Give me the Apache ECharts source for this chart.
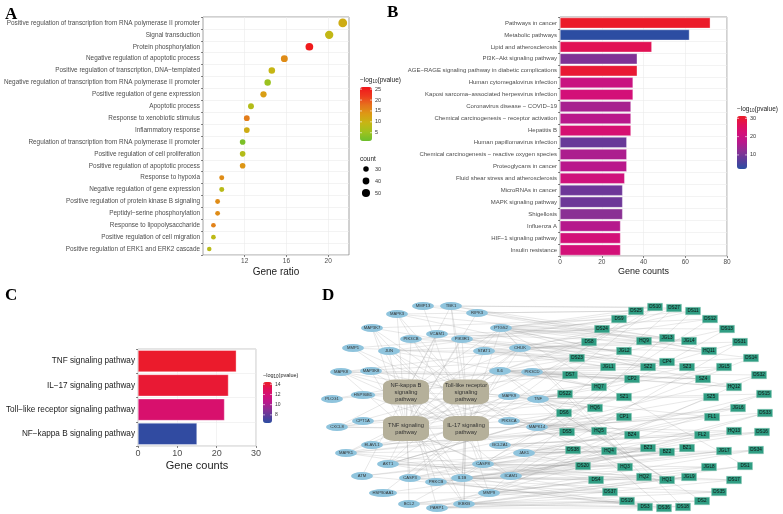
<!DOCTYPE html>
<html><head><meta charset="utf-8">
<script src="https://cdn.jsdelivr.net/npm/echarts@6/dist/echarts.min.js"></script>
<style>html,body{margin:0;padding:0;background:#fff}#c{width:783px;height:514px}</style>
</head><body><div id="c"></div>
<script>
// ---------- Panel A : GO dot plot ----------
const catsA = [
 'Positive regulation of transcription from RNA polymerase II promoter',
 'Signal transduction',
 'Protein phosphorylation',
 'Negative regulation of apoptotic process',
 'Positive regulation of transcription, DNA\u2212templated',
 'Negative regulation of transcription from RNA polymerase II promoter',
 'Positive regulation of gene expression',
 'Apoptotic process',
 'Response to xenobiotic stimulus',
 'Inflammatory response',
 'Regulation of transcription from RNA polymerase II promoter',
 'Positive regulation of cell proliferation',
 'Positive regulation of apoptotic process',
 'Response to hypoxia',
 'Negative regulation of gene expression',
 'Positive regulation of protein kinase B signaling',
 'Peptidyl\u2212serine phosphorylation',
 'Response to lipopolysaccharide',
 'Positive regulation of cell migration',
 'Positive regulation of ERK1 and ERK2 cascade'
];
const ratioA = [21.4, 20.1, 18.2, 15.8, 14.6, 14.2, 13.8, 12.6, 12.2, 12.2, 11.8, 11.8, 11.8, 9.8, 9.8, 9.4, 9.4, 9.0, 9.0, 8.6];
const pvalA  = [11, 9, 25.5, 15, 9.5, 5, 13, 7.5, 16.5, 11, 2.5, 7.5, 14, 15, 8, 15, 15, 16, 8.5, 8];
const countA = [55, 52, 47, 41, 38, 37, 36, 33, 32, 32, 31, 31, 31, 26, 26, 25, 25, 24, 24, 22];
const ticksA = [12, 16, 20];
const pvalTicksA = [5, 10, 15, 20, 25];
const countLegendA = [30, 40, 50];

// ---------- Panel B : KEGG bar chart ----------
const catsB = [
 'Pathways in cancer','Metabolic pathways','Lipid and atherosclerosis','PI3K\u2212Akt signaling pathway',
 'AGE\u2212RAGE signaling pathway in diabetic complications','Human cytomegalovirus infection',
 'Kaposi sarcoma\u2212associated herpesvirus infection','Coronavirus disease \u2212 COVID\u221219',
 'Chemical carcinogenesis \u2212 receptor activation','Hepatitis B','Human papillomavirus infection',
 'Chemical carcinogenesis \u2212 reactive oxygen species','Proteoglycans in cancer',
 'Fluid shear stress and atherosclerosis','MicroRNAs in cancer','MAPK signaling pathway','Shigellosis',
 'Influenza A','HIF\u22121 signaling pathway','Insulin resistance'
];
const countB = [72, 62, 44, 37, 37, 35, 35, 34, 34, 34, 32, 32, 32, 31, 30, 30, 30, 29, 29, 29];
const pvalB  = [31, 2.5, 27, 11, 30, 20, 22, 15, 17, 23, 8.5, 15.5, 17, 21, 9, 9, 12, 16.5, 22, 22];
const ticksB = [0, 20, 40, 60, 80];
const pvalTicksB = [10, 20, 30];

// ---------- Panel C : selected pathways ----------
const catsC = ['TNF signaling pathway','IL\u221217 signaling pathway','Toll\u2212like receptor signaling pathway','NF\u2212kappa B signaling pathway'];
const countC = [25, 23, 22, 15];
const pvalC  = [14.3, 14.1, 12.3, 6.6];
const ticksC = [0, 10, 20, 30];
const pvalTicksC = [8, 10, 12, 14];

// ---------- Panel D : network (layout coordinates) ----------
const pathwayIds = ['NFKB','TLR','TNFP','IL17'];
const pathwayLabels = ['NF-kappa B\nsignaling\npathway','Toll-like receptor\nsignaling\npathway','TNF signaling\npathway','IL-17 signaling\npathway'];
const pathwayXY = [[406,392],[466,392],[406,428.5],[466,428.5]];
const pathwayGenes = [
 'MAP3K7 CHUK IKBKB TNF IL1B PTGS2 VCAM1 ICAM1 CXCL8 BCL2 BCL2A1 PLCG1 PRKCB ATM PARP1 MAP3K8 TBK1',
 'MAPK1 MAPK3 MAPK8 MAPK9 MAPK14 JUN PIK3CA PIK3CB PIK3CD PIK3R1 AKT1 IL6 IL1B TNF CXCL8 TBK1 CHUK IKBKB MAP3K7 MAP3K8 STAT1 CASP8',
 'MAPK1 MAPK3 MAPK8 MAPK9 MAPK14 JUN PIK3CA PIK3CB PIK3CD PIK3R1 AKT1 CASP3 CASP8 IL6 IL1B PTGS2 VCAM1 ICAM1 MMP9 TNF CHUK IKBKB MAP3K7 MAP3K8 RIPK3 CXCL8',
 'MAPK1 MAPK3 MAPK8 MAPK9 MAPK14 JUN IL6 IL1B TNF CXCL8 PTGS2 MMP1 MMP13 MMP9 CASP3 CASP8 HSP90AA1 HSP90B1 ELAVL1 TBK1 CHUK IKBKB MAP3K7'
];
const geneNodes = [
 ['MMP13',423,306],['TBK1',451,306],['MAPK3',397,314],['RIPK3',477,313],['MAP3K7',372,328],['PTGS2',501,328],
 ['VCAM1',437,334],['PIK3CB',411,339],['PIK3R1',462,339],['MMP1',353,348],['JUN',389,351],['STAT1',484,351],
 ['CHUK',520,348],['MAPK8',341,372],['MAP3K8',371,371],['IL6',500,371],['PIK3CD',532,372],['PLCG1',332,399],
 ['HSP90B1',363,395],['MAPK9',509,396],['TNF',538,399],['CXCL8',337,427],['CPT1A',363,421],['PIK3CA',509,421],
 ['MAPK14',537,427],['ELAVL1',372,445],['BCL2A1',500,445],['MAPK1',346,453],['JAK1',524,453],['AKT1',388,464],
 ['CASP8',483,464],['ATM',362,476],['CASP3',410,478],['IL1B',462,478],['ICAM1',511,476],['PRKCB',436,482],
 ['HSP90AA1',383,493],['MMP9',489,493],['BCL2',409,504],['IKBKB',464,504],['PARP1',437,508]
];
const compoundNodes = [
 ['DS10',655,307],['DS27',674,308],['DS25',636,311],['DS11',693,311],['DS9',619,319],['DS12',710,319],
 ['DS24',602,329],['DS13',727,329],['JGL3',667,338],['HQ9',644,341],['JGL4',689,341],['DS8',589,342],
 ['DS31',740,342],['JGL2',624,351],['HQ11',709,351],['DS23',577,358],['DS14',751,358],['CP4',667,362],
 ['JGL1',608,367],['SZ2',648,367],['SZ3',687,367],['JGL5',724,367],['DS7',570,375],['DS32',759,375],
 ['CP2',632,379],['SZ4',703,379],['HQ7',599,387],['HQ12',734,387],['DS22',565,394],['DS15',764,394],
 ['SZ1',624,397],['SZ5',711,397],['HQ6',595,408],['JGL6',738,408],['DS6',564,413],['CP1',624,417],
 ['FL1',712,417],['DS33',765,413],['DS5',567,432],['HQ5',599,431],['BZ4',632,435],['FL2',702,435],
 ['HQ13',734,431],['DS16',762,432],['DS38',573,450],['HQ4',609,451],['BZ3',648,448],['BZ2',667,452],
 ['BZ1',687,448],['JGL7',724,451],['DS34',756,450],['DS20',583,466],['HQ3',625,467],['JGL8',709,467],
 ['DS1',745,466],['HQ2',644,477],['HQ1',667,480],['JGL9',689,477],['DS4',596,480],['DS17',734,480],
 ['DS37',610,492],['DS35',719,492],['DS19',627,501],['DS2',702,501],['DS3',645,507],['DS36',664,508],['DS18',683,507]
];
const compoundTargets = [
 'DS10 MMP13 PTGS2 AKT1 TNF','DS27 TBK1 PTGS2 MAPK14 IL6','DS25 MAPK3 RIPK3 CASP3','DS11 PTGS2 CHUK MMP9',
 'DS9 MAP3K7 PIK3R1 JUN','DS12 PTGS2 STAT1 IL1B','DS24 VCAM1 MMP1 PIK3CB','DS13 PTGS2 PIK3CD BCL2',
 'DS8 MAPK8 IL6 JUN','DS31 CHUK TNF ICAM1','DS23 MMP1 MAPK8 PLCG1','DS14 PTGS2 IL6 CASP8',
 'DS7 IL6 MAP3K8 HSP90B1','DS32 PIK3CD MAPK14 IKBKB','DS22 MAPK9 TNF CXCL8','DS15 TNF JAK1 PARP1',
 'DS6 PIK3CA CPT1A AKT1','DS33 MAPK14 ICAM1 MMP9','DS5 MAPK14 ELAVL1 MAPK1','DS16 JAK1 BCL2A1 IL1B',
 'DS38 BCL2A1 ATM CASP3','DS34 ICAM1 CASP8 MMP9','DS20 JAK1 AKT1 HSP90AA1','DS1 MMP9 IKBKB PTGS2',
 'DS4 CASP8 BCL2 IL1B','DS17 IL1B PARP1 AKT1','DS37 PRKCB HSP90AA1 MAPK1','DS35 IKBKB MMP9 CASP3',
 'DS19 PARP1 BCL2 ATM','DS2 PARP1 IKBKB TNF','DS3 BCL2 CASP3 AKT1','DS36 PARP1 PRKCB IL6','DS18 IKBKB MMP9 PTGS2',
 'HQ1 AKT1 TNF IL6 CASP3','HQ2 IL1B PTGS2 MAPK1','HQ3 CASP8 PRKCB MMP1','HQ4 JAK1 MAPK8 ATM',
 'HQ5 MAPK14 PIK3CA ELAVL1','HQ6 TNF MAPK9 HSP90B1','HQ7 IL6 PIK3CD JUN','HQ9 STAT1 PTGS2 VCAM1',
 'HQ11 CHUK RIPK3 TBK1','HQ12 PIK3CD IL6 MAPK3','HQ13 MAPK14 BCL2A1 ICAM1',
 'JGL1 IL6 STAT1 MAP3K7','JGL2 PIK3R1 PIK3CB JUN','JGL3 PTGS2 TBK1 MMP13','JGL4 CHUK PTGS2 MAPK3',
 'JGL5 PIK3CD TNF AKT1','JGL6 MAPK14 MAPK1 CASP3','JGL7 ICAM1 JAK1 IL1B','JGL8 CASP8 IL1B MMP9','JGL9 IKBKB PARP1 BCL2',
 'SZ1 TNF MAPK9 CXCL8 AKT1','SZ2 PIK3R1 STAT1 IL6 PTGS2','SZ3 PTGS2 CHUK TNF','SZ4 PIK3CD IL6 MAPK8','SZ5 MAPK14 TNF ICAM1',
 'CP1 PIK3CA MAPK14 AKT1','CP2 IL6 MAPK9 MAPK8','CP4 PTGS2 STAT1 PIK3R1',
 'BZ1 CASP8 JAK1 IL1B','BZ2 IL1B CASP3 PRKCB','BZ3 BCL2A1 AKT1 MAPK1','BZ4 PIK3CA MAPK14 TNF',
 'FL1 MAPK14 JAK1 TNF','FL2 BCL2A1 PIK3CA ICAM1'
];

// ---------- build ----------
const FONT = '"Liberation Sans", Arial, Helvetica, sans-serif';
const gradA = ['#6cbf2c','#9fc21e','#c6b614','#dc9a14','#e6711c','#ee3a1e','#f0161c'];
const gradB = ['#2a4ea2','#5a3c9a','#8a3094','#b8188c','#d2107a','#e0105a','#ec1c26'];

const chart = echarts.init(document.getElementById('c'));

function catAxis(gi, cats, fs, col){
  return {type:'category', gridIndex:gi, data:cats, inverse:true,
    axisLine:{show:false}, axisTick:{show:true, length:2, lineStyle:{color:'#333', width:0.6}},
    axisLabel:{fontSize:fs, color:col, fontFamily:FONT, margin:3},
    splitLine:{show:true, lineStyle:{color:'#ebebeb', width:0.6}}};
}
function valAxis(gi, min, max, step, major, fs, name, nfs, ngap){
  return {type:'value', gridIndex:gi, min:min, max:max, interval:step,
    axisLine:{show:false},
    axisTick:{show:true, length:2, lineStyle:{color:'#333', width:0.6}, customValues:major},
    axisLabel:{fontSize:fs, color:'#4d4d4d', fontFamily:FONT, margin:3, customValues:major,
      formatter:v => major.indexOf(v) >= 0 ? String(v) : ''},
    splitLine:{show:true, lineStyle:{color:'#ebebeb', width:0.6}},
    name:name, nameLocation:'middle', nameGap:ngap,
    nameTextStyle:{fontSize:nfs, color:'#222', fontFamily:FONT}};
}

const bars = [
  {key:'A', left:360, top:87, w:12, h:54, min:1.2, max:26, ticks:pvalTicksA, colors:gradA, sIdx:0, fs:5.5},
  {key:'B', left:737, top:116, w:10, h:53, min:2.3, max:31.3, ticks:pvalTicksB, colors:gradB, sIdx:1, fs:5.5},
  {key:'C', left:263, top:382, w:9, h:41, min:6.4, max:14.45, ticks:pvalTicksC, colors:gradB, sIdx:2, fs:5}
];
const visualMaps = bars.map(b => ({type:'continuous', seriesIndex:b.sIdx, dimension:2, min:b.min, max:b.max,
  calculable:false, left:b.left, top:b.top, itemWidth:b.w, itemHeight:b.h, padding:0, text:null,
  inRange:{color:b.colors}, hoverLink:false}));

const graphics = [];
function txt(x, y, s, fs, opts){ graphics.push(Object.assign({type:'text', x:x, y:y, silent:true,
  style:Object.assign({text:s, fontSize:fs, fontFamily:FONT, fill:'#333'}, opts||{})})); }
bars.forEach(b => {
  b.ticks.forEach(v => {
    const y = b.top + (b.max - v) / (b.max - b.min) * b.h;
    graphics.push({type:'line', silent:true, z:100, shape:{x1:b.left, y1:y, x2:b.left+2, y2:y}, style:{stroke:'#fff', lineWidth:0.6}});
    graphics.push({type:'line', silent:true, z:100, shape:{x1:b.left+b.w-2, y1:y, x2:b.left+b.w, y2:y}, style:{stroke:'#fff', lineWidth:0.6}});
    txt(b.left + b.w + 3, y, String(v), b.fs, {verticalAlign:'middle'});
  });
  graphics.push({type:'text', x:b.left, y:b.top - 7, silent:true, style:{
    text:'{a|\u2212log}{s|10}{a|(pvalue)}', verticalAlign:'middle',
    rich:{a:{fontSize:b.key==='C'?5.5:6.5, fontFamily:FONT, fill:'#222'}, s:{fontSize:4.5, fontFamily:FONT, fill:'#222', padding:[4,0,0,0]}}}});
});
// size legend for A
const sizeA = c => 1.6 + 0.13 * c;
txt(360, 159, 'count', 6.5, {verticalAlign:'middle', fill:'#222'});
countLegendA.forEach((c, i) => {
  const y = 169 + i * 12;
  graphics.push({type:'circle', silent:true, shape:{cx:366, cy:y, r:sizeA(c)/2}, style:{fill:'#000'}});
  txt(375, y, String(c), 5.5, {verticalAlign:'middle'});
});
// panel letters
[['A',5,6],['B',387,4],['C',5,287],['D',322,287]].forEach(p => graphics.push({type:'text', x:p[1], y:p[2], silent:true,
  style:{text:p[0], fontSize:17, fontWeight:'bold', fontFamily:'"Liberation Serif", "Times New Roman", serif', fill:'#000'}}));

// network nodes & links
const nodes = [], links = [];
pathwayIds.forEach((id, i) => nodes.push({name:id, value:pathwayXY[i], symbol:'roundRect', symbolSize:[46,25],
  itemStyle:{color:'#b5b09a'}, label:{show:true, formatter:pathwayLabels[i], fontSize:5.8, lineHeight:7, color:'#333', fontFamily:FONT}}));
geneNodes.forEach(g => nodes.push({name:g[0], value:[g[1], g[2]], symbol:'circle',
  symbolSize:[Math.max(22, g[0].length * 3.5), 8], itemStyle:{color:'#8fc4dd'},
  label:{show:true, fontSize:4.2, color:'#333', fontFamily:FONT}}));
compoundNodes.forEach(c => nodes.push({name:c[0], value:[c[1], c[2]], symbol:'rect', symbolSize:[15,7.5],
  itemStyle:{color:'#2f9d83', borderColor:'#8fcab8', borderWidth:0.4},
  label:{show:true, fontSize:4.6, color:'#111', fontFamily:FONT}}));
pathwayGenes.forEach((s, i) => s.split(' ').forEach(g => links.push({source:pathwayIds[i], target:g})));
compoundTargets.forEach(s => { const p = s.split(' '); p.slice(1).forEach(g => links.push({source:p[0], target:g})); });

const option = {
  animation:false,
  textStyle:{fontFamily:FONT},
  grid:[
    {left:203, top:17, width:146, height:238, show:true, borderColor:'#8a8a8a', borderWidth:0.8, backgroundColor:'#fff'},
    {left:560, top:17, width:167, height:239, show:true, borderColor:'#8a8a8a', borderWidth:0.8, backgroundColor:'#fff'},
    {left:138, top:349, width:118, height:97, show:true, borderColor:'#bbbbbb', borderWidth:0.8, backgroundColor:'#fff'},
    {left:0, top:0, width:783, height:514, show:false}
  ],
  xAxis:[
    valAxis(0, 8, 22, 2, ticksA, 6.5, 'Gene ratio', 10, 12),
    valAxis(1, 0, 80, 10, ticksB, 6.5, 'Gene counts', 9, 11),
    valAxis(2, 0, 30, 5, ticksC, 9, 'Gene counts', 11, 14),
    {type:'value', gridIndex:3, min:0, max:783, show:false, splitLine:{show:false}}
  ],
  yAxis:[
    catAxis(0, catsA, 6.4, '#4d4d4d'),
    catAxis(1, catsB, 6, '#4d4d4d'),
    catAxis(2, catsC, 8.2, '#222'),
    {type:'value', gridIndex:3, min:0, max:514, inverse:true, show:false, splitLine:{show:false}}
  ],
  visualMap: visualMaps,
  series:[
    {type:'scatter', xAxisIndex:0, yAxisIndex:0, encode:{x:0, y:1},
      data: catsA.map((c, i) => [ratioA[i], c, pvalA[i], countA[i]]),
      symbolSize: v => sizeA(v[3]), itemStyle:{opacity:1}},
    {type:'bar', xAxisIndex:1, yAxisIndex:1, encode:{x:0, y:1}, barCategoryGap:'10%',
      data: catsB.map((c, i) => [countB[i], c, pvalB[i]]),
      itemStyle:{borderColor:'rgba(255,255,255,0.7)', borderWidth:0.5}},
    {type:'bar', xAxisIndex:2, yAxisIndex:2, encode:{x:0, y:1}, barCategoryGap:'10%',
      data: catsC.map((c, i) => [countC[i], c, pvalC[i]]),
      itemStyle:{borderColor:'rgba(255,255,255,0.7)', borderWidth:0.5}},
    {type:'graph', coordinateSystem:'cartesian2d', xAxisIndex:3, yAxisIndex:3, layout:'none',
      data:nodes, links:links, silent:true,
      lineStyle:{color:'#9a9a9a', width:0.45, opacity:0.5, curveness:0},
      label:{position:'inside'}}
  ],
  graphic: graphics
};
chart.setOption(option);
</script></body></html>
